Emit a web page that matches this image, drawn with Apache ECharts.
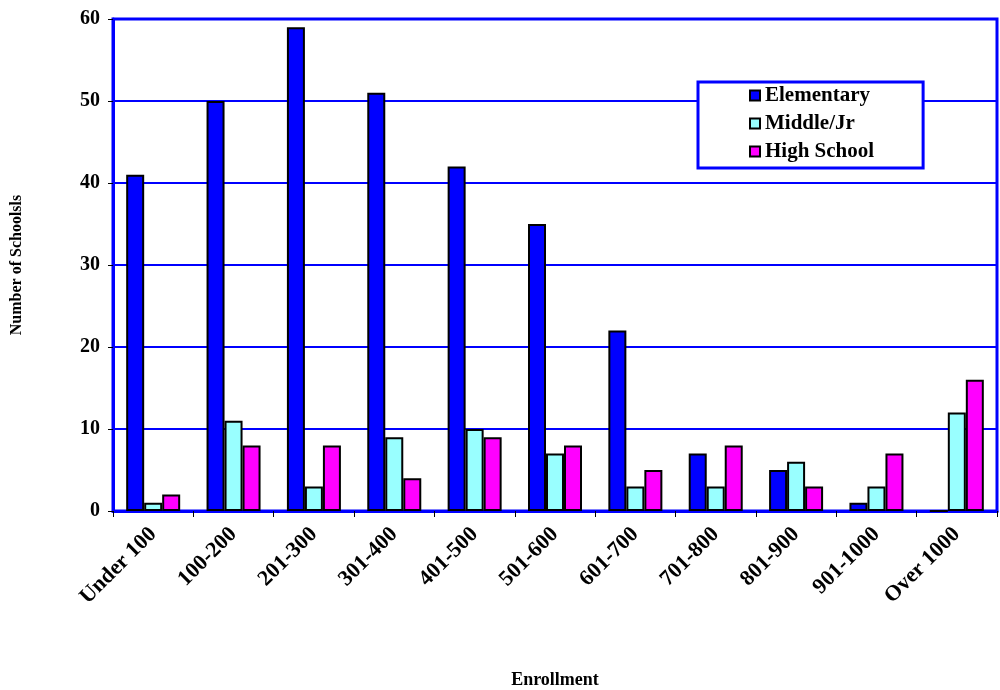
<!DOCTYPE html>
<html>
<head>
<meta charset="utf-8">
<script src="https://cdn.jsdelivr.net/npm/echarts@6/dist/echarts.min.js"></script>
</head>
<body style="margin:0;background:#fff;">
    <div id="main" style="width: 1000px;height:690px;"></div>
    <script type="text/javascript">
        var categories = ['Under 100', '100-200', '201-300', '301-400', '401-500', '501-600',
                          '601-700', '701-800', '801-900', '901-1000', 'Over 1000'];
        var elementary = [41, 50, 59, 51, 42, 35, 22, 7, 5, 1, 0];
        var middleJr   = [1, 11, 3, 9, 10, 7, 3, 3, 6, 3, 12];
        var highSchool = [2, 8, 8, 4, 9, 8, 5, 8, 3, 7, 16];

        var serif = '"Liberation Serif", "Times New Roman", serif';
        var myChart = echarts.init(document.getElementById('main'));

        function bar(name, data, color) {
            return {
                name: name,
                type: 'bar',
                data: data,
                barWidth: 18,
                barGap: '0%',
                itemStyle: { color: color, borderColor: '#000', borderWidth: 2 }
            };
        }

        var option = {
            animation: false,
            grid: {
                left: 113, right: 3, top: 19, bottom: 179,
                outerBoundsMode: 'none',
                show: true, borderColor: '#0000ff', borderWidth: 3
            },
            legend: {
                orient: 'vertical',
                left: 698, top: 82,
                padding: [3, 49, 6, 51],
                itemGap: 7,
                itemWidth: 10, itemHeight: 10,
                icon: 'rect',
                borderColor: '#0000ff', borderWidth: 3,
                backgroundColor: '#fff',
                textStyle: { fontFamily: serif, fontWeight: 'bold', fontSize: 21, color: '#000' },
                data: ['Elementary', 'Middle/Jr', 'High School']
            },
            xAxis: {
                type: 'category',
                data: categories,
                name: 'Enrollment',
                nameLocation: 'middle',
                nameGap: 160,
                nameTextStyle: { fontFamily: serif, fontWeight: 'bold', fontSize: 18, color: '#000' },
                axisLine: { lineStyle: { color: '#0000ff', width: 3 } },
                axisTick: { show: true, length: 6, lineStyle: { color: '#000' } },
                axisLabel: { rotate: 45, fontFamily: serif, fontWeight: 'bold', fontSize: 22, color: '#000', margin: 20 }
            },
            yAxis: {
                type: 'value',
                min: 0, max: 60, interval: 10,
                name: 'Number of Schoolsls',
                nameLocation: 'middle',
                nameGap: 88,
                nameRotate: 90,
                nameTextStyle: { fontFamily: serif, fontWeight: 'bold', fontSize: 16, color: '#000' },
                axisLine: { show: true, lineStyle: { color: '#0000ff', width: 3 } },
                axisTick: { show: true, length: 5, lineStyle: { color: '#000' } },
                axisLabel: { fontFamily: serif, fontWeight: 'bold', fontSize: 20, color: '#000', margin: 13 },
                splitLine: { lineStyle: { color: '#0000ff', width: 2 } }
            },
            series: [
                bar('Elementary', elementary, '#0000ff'),
                bar('Middle/Jr', middleJr, '#99ffff'),
                bar('High School', highSchool, '#ff00ff')
            ]
        };

        myChart.setOption(option);
    </script>
</body>
</html>
